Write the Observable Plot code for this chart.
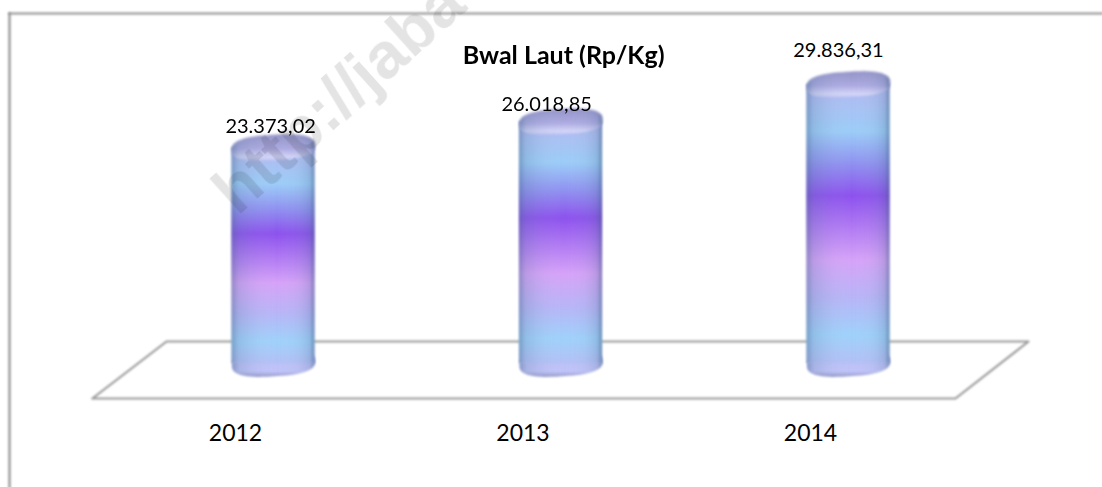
<!DOCTYPE html>
<html>
<head>
<meta charset="utf-8">
<script src="https://cdn.jsdelivr.net/npm/d3@7"></script>
<script src="https://cdn.jsdelivr.net/npm/@observablehq/plot@0.6"></script>
<style>
  html, body { margin: 0; padding: 0; background: #fff; }
  svg { display: block; }
</style>
</head>
<body>
<div id="chart"></div>
<script>
const years = [2012, 2013, 2014];
const values = [23373.02, 26018.85, 29836.31];
const labelX = [2011.99, 2012.95, 2013.965];
const labelY = [25490, 27810, 33270];
const floorX = [2011.37, 2011.628, 2014.626, 2014.372, 2011.37];
const floorY = [-2358, 3486, 3486, -2358, -2358];
const baseValue = 1230;
const halfWidth = 0.1443;
const tickLabelY = -5947;
const titleText = "Bwal Laut (Rp/Kg)";
const titleX = 2013.009;
const titleY = 32708;
const watermarkText = "http://jaba";
const watermarkX = 2011.875;
const watermarkY = 16300;

const fmt = d3.formatLocale({decimal: ",", thousands: ".", grouping: [3], currency: ["", ""]}).format(",.2f");
const rows = years.map((year, i) => ({year, value: values[i], lx: labelX[i], ly: labelY[i]}));
const floorRows = floorX.map((x, i) => ({x, y: floorY[i]}));

const roundedCap = {
  draw(ctx, size) {
    const r = Math.sqrt(size / Math.PI), ry = r * 0.31, t = -3.5 * Math.PI / 180, n = 2.6;
    for (let k = 0; k < 64; ++k) {
      const a = k / 64 * 2 * Math.PI, c = Math.cos(a), s = Math.sin(a);
      const ex = r * Math.sign(c) * Math.pow(Math.abs(c), 2 / n), ey = ry * Math.sign(s) * Math.pow(Math.abs(s), 2 / n);
      const px = ex * Math.cos(t) - ey * Math.sin(t), py = ex * Math.sin(t) + ey * Math.cos(t);
      k ? ctx.lineTo(px, py) : ctx.moveTo(px, py);
    }
    ctx.closePath();
  }
};
const soft = (i, s, v, d, c, next) => { const g = next(i, s, v, d, c); g.style.filter = "blur(0.9px)"; return g; };

const defs = () => d3.create("svg:defs").html(`
  <linearGradient id="bodyGrad" x1="0" y1="0" x2="0" y2="1">
    <stop offset="0" stop-color="#b4b8f0"/>
    <stop offset="0.17" stop-color="#9ccdf8"/>
    <stop offset="0.29" stop-color="#8f90f0"/>
    <stop offset="0.40" stop-color="#8d52ee"/>
    <stop offset="0.63" stop-color="#d6a3f8"/>
    <stop offset="0.77" stop-color="#b7b6f7"/>
    <stop offset="0.90" stop-color="#9fd2fb"/>
    <stop offset="1" stop-color="#b4c0f6"/>
  </linearGradient>
  <linearGradient id="edgeGrad" x1="0" y1="0" x2="1" y2="0">
    <stop offset="0" stop-color="#4a6a90" stop-opacity="0.5"/>
    <stop offset="0.08" stop-color="#5a7aa0" stop-opacity="0.22"/>
    <stop offset="0.3" stop-color="#8aa0c0" stop-opacity="0.07"/>
    <stop offset="0.55" stop-color="#ffffff" stop-opacity="0"/>
    <stop offset="0.78" stop-color="#8aa0c0" stop-opacity="0.06"/>
    <stop offset="0.94" stop-color="#4a6a90" stop-opacity="0.2"/>
    <stop offset="1" stop-color="#3a5a80" stop-opacity="0.55"/>
  </linearGradient>
  <linearGradient id="lidGrad" x1="0" y1="0" x2="0" y2="1">
    <stop offset="0" stop-color="#9494c8"/>
    <stop offset="0.55" stop-color="#adabe2"/>
    <stop offset="0.86" stop-color="#d6d8f9"/>
    <stop offset="1" stop-color="#b9bdf2"/>
  </linearGradient>
  <linearGradient id="footGrad" x1="0" y1="0" x2="0" y2="1">
    <stop offset="0" stop-color="#b4c0f6"/>
    <stop offset="0.8" stop-color="#c0c3f8"/>
    <stop offset="1" stop-color="#9298c6"/>
  </linearGradient>`).node();

const chart = Plot.plot({
  width: 1102,
  height: 487,
  marginTop: 13,
  marginLeft: 9,
  marginRight: 0,
  marginBottom: 0,
  style: {background: "#fff", fontFamily: "Lato", color: "#000"},
  x: {type: "linear", domain: [2012, 2014], range: [273, 848], axis: null},
  y: {type: "linear", domain: [0, 29836.31], range: [375, 84], axis: null},
  marks: [
    defs,
    Plot.frame({anchor: "top", stroke: "#8f8f8f", strokeWidth: 2.2, render: soft}),
    Plot.frame({anchor: "left", stroke: "#8f8f8f", strokeWidth: 2.2, render: soft}),
    Plot.line(floorRows, {x: "x", y: "y", stroke: "#999", strokeWidth: 2.2, render: soft}),
    Plot.dot(rows, {x: "year", y: () => baseValue, r: 41.5, symbol: roundedCap, fill: "url(#footGrad)", render: soft}),
    Plot.dot(rows, {x: "year", y: () => baseValue, r: 41.5, symbol: roundedCap, fill: "url(#edgeGrad)", render: soft}),
    Plot.rectY(rows, {x1: d => d.year - halfWidth, x2: d => d.year + halfWidth, y1: () => baseValue, y2: "value", fill: "url(#bodyGrad)", render: soft}),
    Plot.rectY(rows, {x1: d => d.year - halfWidth, x2: d => d.year + halfWidth, y1: () => baseValue, y2: "value", fill: "url(#edgeGrad)", render: soft}),
    Plot.dot(rows, {x: "year", y: "value", r: 41.5, symbol: roundedCap, fill: "url(#lidGrad)", render: soft}),
    Plot.dot(rows, {x: "year", y: "value", r: 41.5, symbol: roundedCap, fill: "url(#edgeGrad)", render: soft}),
    Plot.text(rows, {x: "lx", y: "ly", text: d => fmt(d.value), fontSize: 20, fill: "#000"}),
    Plot.text(years, {x: d => d, y: () => tickLabelY, dx: -38, text: d => String(d), fontSize: 23, fill: "#000"}),
    Plot.text([titleText], {x: () => titleX, y: () => titleY, text: d => d, fontSize: 25, fontWeight: "bold", fill: "#000"}),
    Plot.text([watermarkText], {x: () => watermarkX, y: () => watermarkY, text: d => d, rotate: -42, textAnchor: "start", lineAnchor: "bottom", fontSize: 65, fontWeight: "bold", fontFamily: "Liberation Sans", fill: "#e4e4e4", mixBlendMode: "multiply"})
  ]
});
document.getElementById("chart").append(chart);
</script>
</body>
</html>
